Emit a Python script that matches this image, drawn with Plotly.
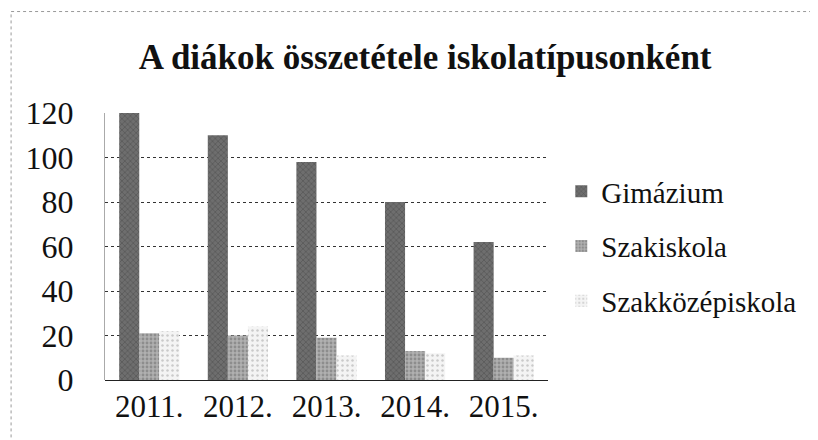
import plotly.graph_objects as go

years = ["2011.", "2012.", "2013.", "2014.", "2015."]
gimnazium = [120, 110, 98, 80, 62]
szakiskola = [21, 20, 19, 13, 10]
szakkozep = [22, 24, 11, 12, 11]
series_names = ["Gimázium", "Szakiskola", "Szakközépiskola"]

SERIF = "Liberation Serif"


def serif(txt):
    return f"<span style='font-family:{SERIF}'>{txt}</span>"


fig = go.Figure()
fig.add_trace(go.Bar(x=years, y=gimnazium, name=serif(series_names[0]), legendgroup="a",
                     marker=dict(color="#6e6e6e", line=dict(width=0),
                                 pattern=dict(shape="x", fgcolor="#3a3a3a", size=4, solidity=0.3))))
fig.add_trace(go.Bar(x=years, y=szakiskola, name=serif(series_names[1]), legendgroup="b",
                     marker=dict(color="#b0b0b0", line=dict(width=0),
                                 pattern=dict(shape=".", fgcolor="#6a6a6a", size=4, solidity=0.4))))
fig.add_trace(go.Bar(x=years, y=szakkozep, name=serif(series_names[2]), legendgroup="c",
                     marker=dict(color="#f4f4f4", line=dict(width=0),
                                 pattern=dict(shape=".", fgcolor="#a0a0a0", size=5, solidity=0.2))))

# scanned page border (top and left edges)
fig.add_shape(type="line", xref="paper", yref="paper", x0=-0.212, x1=1.63, y0=1.38, y1=1.38,
              line=dict(color="#999999", width=1, dash="dot"))
fig.add_shape(type="line", xref="paper", yref="paper", x0=-0.212, x1=-0.212, y0=-0.26, y1=1.38,
              line=dict(color="#999999", width=1, dash="dot"))

fig.update_layout(
    width=818, height=440,
    paper_bgcolor="white", plot_bgcolor="white",
    font=dict(family=SERIF, color="#111111", size=28),
    title=dict(text="<b>A diákok összetétele iskolatípusonként</b>", x=0.51, xanchor="center",
               y=0.89, yanchor="middle", font=dict(size=35, family=SERIF)),
    barmode="group", bargap=0.32, bargroupgap=0,
    margin=dict(l=97, r=278, t=105, b=68),
    legend=dict(x=1.03, xanchor="left", y=0.5, yanchor="middle", traceorder="grouped",
                tracegroupgap=14, font=dict(size=29, family=SERIF, color="#111111"),
                itemwidth=30),
    showlegend=True,
)
fig.update_yaxes(range=[0, 120], dtick=20, showgrid=True, gridcolor="#333333", griddash="dot",
                 gridwidth=1, zeroline=True, zerolinecolor="#222222", zerolinewidth=1,
                 showline=True, linecolor="#aaaaaa", linewidth=1, ticks="",
                 ticklabelstandoff=24, tickfont=dict(size=32, family=SERIF))
fig.update_xaxes(showgrid=False, ticks="", ticklabelstandoff=5, tickfont=dict(size=31, family=SERIF))

fig.write_html("out.html")
